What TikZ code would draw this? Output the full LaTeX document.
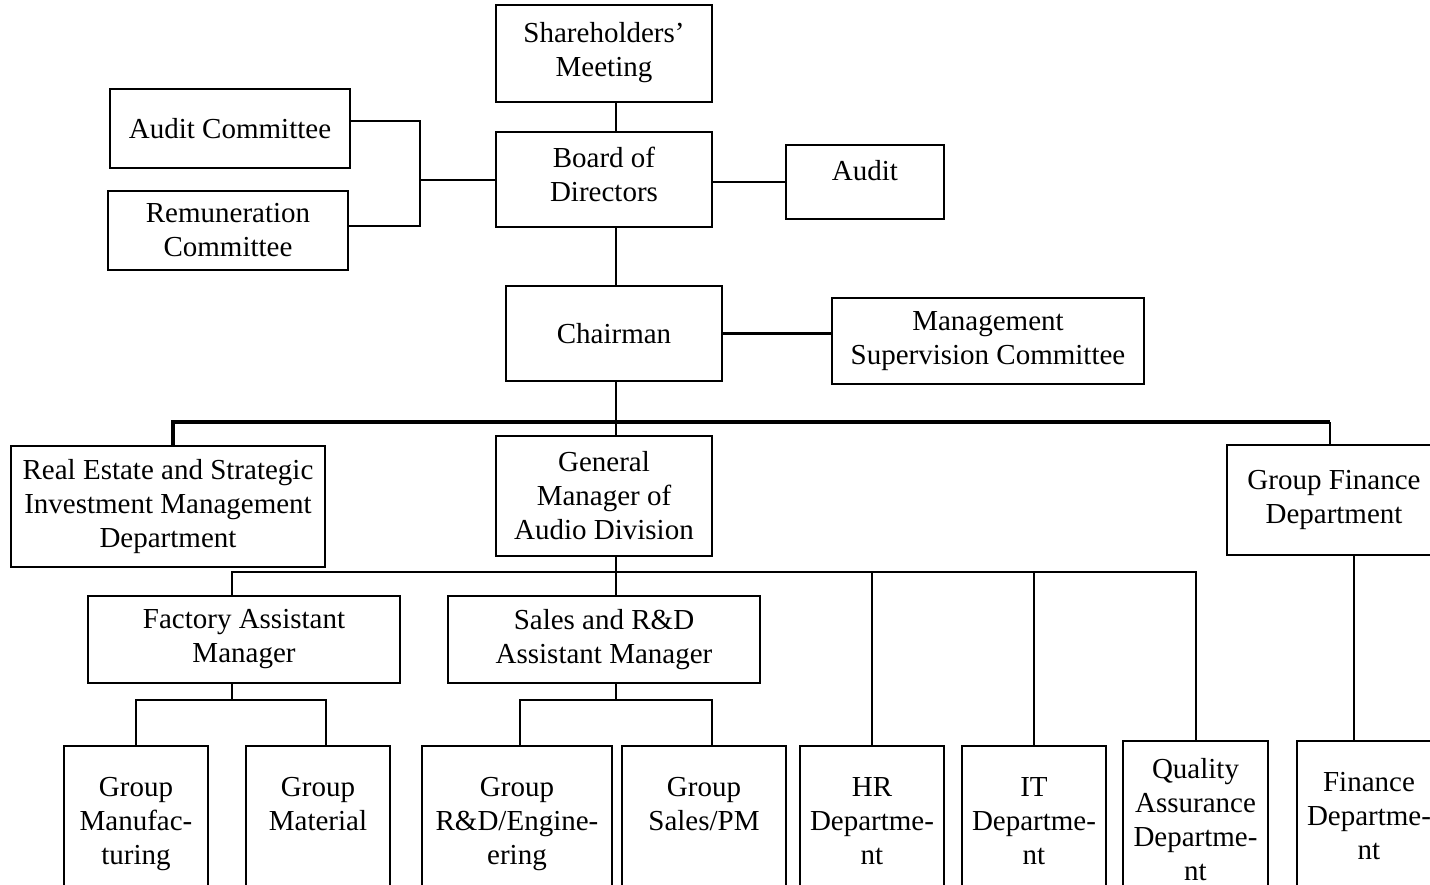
\documentclass[tikz,border=0pt]{standalone}
\usepackage{fontspec}
\setmainfont{Liberation Serif}
\usepackage{tikz}
\usetikzlibrary{calc}
\usetikzlibrary{positioning}

\begin{document}
\begin{tikzpicture}[x=0.5pt, y=-0.5pt, line width=1pt,
  font=\fontsize{14.5}{17}\selectfont]
 	  \tikzstyle{box}=[draw, rectangle, inner sep=0pt, align=center]
 	  \tikzstyle{leaf}=[draw, rectangle, inner sep=0pt, anchor=north, align=center, text height=25pt, text depth=70pt]
 	  \tikzstyle{bus}=[line width=1.6pt]
\useasboundingbox (0,0) rectangle (1430,884);
\clip (0,0) rectangle (1430,884);
% top of the chart
\node[box, minimum width=108pt, minimum height=48.5pt] (share) at (604,53) {Shareholders'\\Meeting};
\node[box, minimum width=108pt, minimum height=47.5pt] (board) at (604,179.5) {Board of\\Directors\\[-12pt]};
\node[box, minimum width=120pt, minimum height=39.5pt] (auditc) at (230,128.5) {Audit Committee};
\node[box, minimum width=120pt, minimum height=39.5pt] (remun) at (228,230.5) {Remuneration\\Committee};
\node[box, minimum width=79pt, minimum height=37pt, text height=10pt, text depth=12pt] (audit) at (865,182) {Audit};
\node[box, minimum width=108pt, minimum height=47.5pt] (chair) at (614,333.5) {Chairman};
\node[box, minimum width=156pt, minimum height=43pt] (msc) at (988,341) {Management\\Supervision Committee};
% second row
\node[box, minimum width=157pt, minimum height=60.5pt] (realest) at (168,506.5) {Real Estate and Strategic\\Investment Management\\Department};
\node[box, minimum width=108pt, minimum height=60pt] (gm) at (604,496) {General\\Manager of\\Audio Division};
\node[box, minimum width=107pt, minimum height=55pt] (gfin) at (1334,500) {Group Finance\\Department};
\node[box, minimum width=156pt, minimum height=43.5pt] (fam) at (244,639.5) {Factory Assistant\\Manager};
\node[box, minimum width=156pt, minimum height=43.5pt] (srd) at (604,639.5) {Sales and R\&D\\Assistant Manager};
% departments
\node[leaf, text width=72pt] (gmfg) at (136,745) {Group\\Manufac-\\turing};
\node[leaf, text width=72pt] (gmat) at (318,745) {Group\\Material};
\node[leaf, text width=95pt] (grd) at (517,745) {Group\\R\&D/Engine-\\ering};
\node[leaf, text width=82pt] (gsales) at (704,745) {Group\\Sales/PM};
\node[leaf, text width=72pt] (hr) at (872,745) {HR\\Departme-\\nt};
\node[leaf, text width=72pt] (it) at (1034,745) {IT\\Departme-\\nt};
\node[leaf, text width=72.5pt, text height=18.5pt] (qa) at (1195.5,740) {Quality\\Assurance\\Departme-\\nt};
\node[leaf, text width=72pt] (fin) at (1369,740) {Finance\\Departme-\\nt};

\coordinate (brk) at (420,175);
\coordinate (bus1) at (616,422);
\coordinate (bus2) at (616,572);
\coordinate (ac) at ([yshift=3.75pt]auditc.east);
\coordinate (rc) at ([yshift=2.25pt]remun.east);

\draw ([xshift=6pt]share.south) -- ([xshift=6pt]board.north);
\draw ([xshift=6pt]board.south) -- ([xshift=6pt]board.south |- chair.north);
\draw (ac) -| (brk |- rc) -- (rc);
\draw (brk |- board.west) -- (board.west);
\draw (audit.west -| board.east) -- (audit.west);
\draw[bus] (chair.east) -- (chair.east -| msc.west);
   %main bus under the chairman
\draw (bus1 |- chair.south) -- (bus1 |- gm.north);
\draw[bus] ([xshift=2.5pt]realest.north) -- ([xshift=2.5pt]realest.north |- bus1) -- ([xshift=-2pt]gfin.north |- bus1);
\draw ([xshift=-2pt]gfin.north |- bus1) -- ([xshift=-2pt]gfin.north);
   %bus under the general manager
\draw (bus2 |- gm.south) -- (bus2 |- srd.north);
\draw ([xshift=-6pt]fam.north) -- ([xshift=-6pt]fam.north |- bus2) -- (qa.north |- bus2) -- (qa.north);
\draw (hr.north) -- (hr.north |- bus2);
\draw (it.north) -- (it.north |- bus2);
\draw ([xshift=-7.5pt]fin.north) -- ([xshift=-7.5pt]fin.north |- gfin.south);
\foreach \mgr/\a/\b/\dx/\sx in {fam/gmfg/gmat/-6pt/0pt, srd/grd/gsales/6pt/1.5pt}{
    \draw ([xshift=\dx]\mgr.south) -- ++(0,17);
    \draw ([xshift=\sx]\a.north) -- ++(0,-45) -| ([xshift=4pt]\b.north);
      }
   \end{tikzpicture}
\end{document}
